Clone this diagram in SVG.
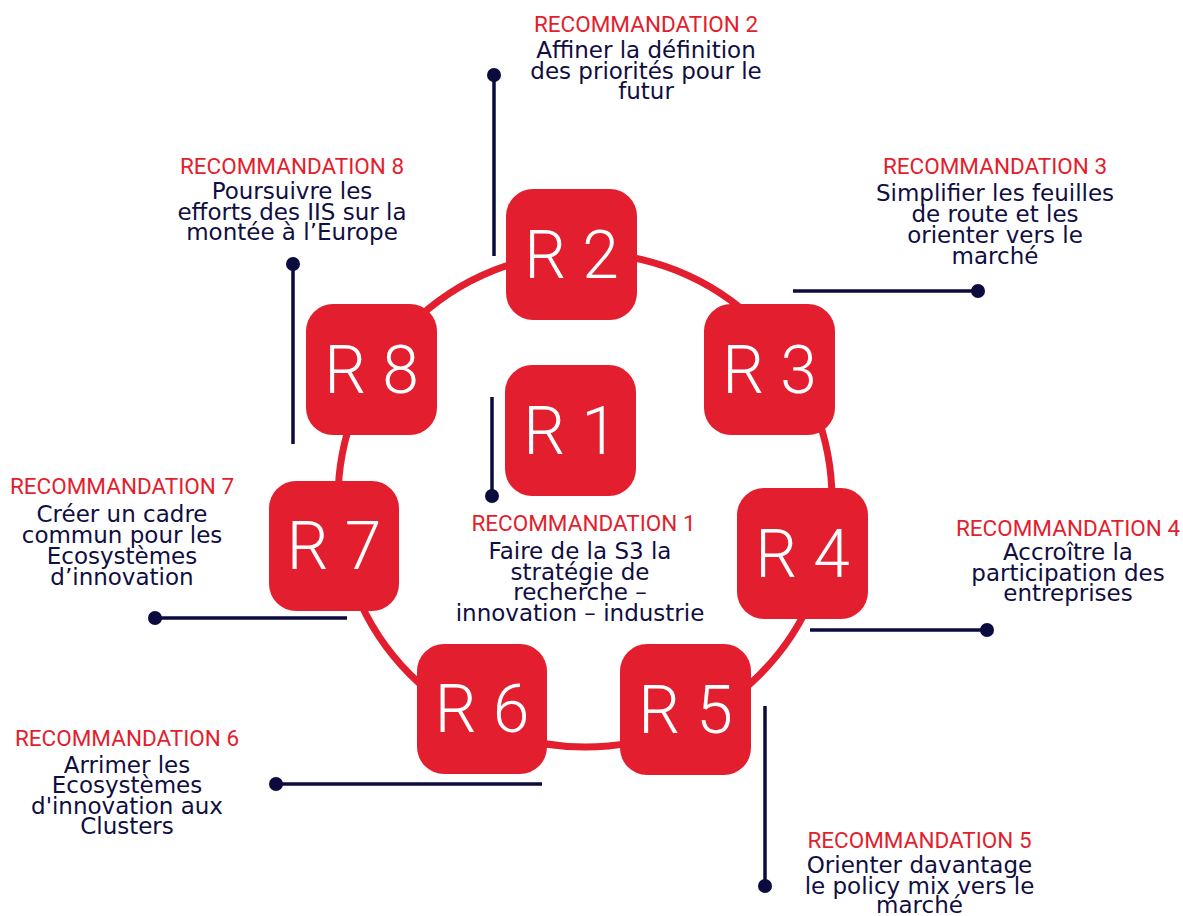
<svg xmlns="http://www.w3.org/2000/svg" width="1183" height="916" viewBox="0 0 1183 916">
<style>
.ring{fill:none;stroke:#E31E2E;stroke-width:7}
.box{fill:#E31E2E}
.bl{font-family:Roboto,"Liberation Sans",sans-serif;font-size:66px;font-weight:300;fill:#ffffff;text-anchor:middle}
.hd{font-family:Roboto,"Liberation Sans",sans-serif;font-size:22.5px;fill:#E31E2E;text-anchor:middle}
.bd{font-family:"DejaVu Sans","Liberation Sans",sans-serif;font-size:23px;fill:#100E42;text-anchor:middle}
.ln{stroke:#0B0B3D;stroke-width:3.5;fill:none}
.dot{fill:#0B0B3D}
</style>
<rect width="1183" height="916" fill="#ffffff"/>
<g id="connectors">
<circle class="ring" cx="585" cy="500" r="247"/>
<line class="ln" x1="494" y1="75" x2="494" y2="256"/><circle class="dot" cx="494" cy="75" r="7"/>
<line class="ln" x1="293" y1="264" x2="293" y2="444"/><circle class="dot" cx="293" cy="264" r="7"/>
<line class="ln" x1="492" y1="397" x2="492" y2="496"/><circle class="dot" cx="492" cy="496" r="7"/>
<line class="ln" x1="793" y1="291" x2="978" y2="291"/><circle class="dot" cx="978" cy="291" r="7"/>
<line class="ln" x1="155" y1="618" x2="347" y2="618"/><circle class="dot" cx="155" cy="618" r="7"/>
<line class="ln" x1="276" y1="784" x2="542" y2="784"/><circle class="dot" cx="276" cy="784" r="7"/>
<line class="ln" x1="810" y1="630" x2="987" y2="630"/><circle class="dot" cx="987" cy="630" r="7"/>
<line class="ln" x1="765" y1="706" x2="765" y2="886"/><circle class="dot" cx="765" cy="886" r="7"/>
</g>
<g id="R1"><rect class="box" x="505" y="365" width="131" height="131" rx="27"/><text class="bl" x="570.5" y="453.5">R 1</text></g>
<g id="R2"><rect class="box" x="506" y="189" width="131" height="131" rx="27"/><text class="bl" x="571.5" y="277.5">R 2</text></g>
<g id="R3"><rect class="box" x="704" y="304" width="131" height="131" rx="27"/><text class="bl" x="769.5" y="392.5">R 3</text></g>
<g id="R4"><rect class="box" x="737" y="488" width="131" height="131" rx="27"/><text class="bl" x="802.5" y="576.5">R 4</text></g>
<g id="R5"><rect class="box" x="620" y="644" width="131" height="131" rx="27"/><text class="bl" x="685.5" y="732.5">R 5</text></g>
<g id="R6"><rect class="box" x="417" y="644" width="130" height="130" rx="27"/><text class="bl" x="482" y="732">R 6</text></g>
<g id="R7"><rect class="box" x="269" y="481" width="130" height="130" rx="27"/><text class="bl" x="334" y="569">R 7</text></g>
<g id="R8"><rect class="box" x="306" y="304" width="131" height="131" rx="27"/><text class="bl" x="371.5" y="392.5">R 8</text></g>
<g id="rec1"><text class="hd" x="583.5" y="531">RECOMMANDATION 1</text>
<text class="bd" x="580" y="559">Faire de la S3 la</text><text class="bd" x="580" y="579.5">stratégie de</text><text class="bd" x="580" y="600">recherche –</text><text class="bd" x="580" y="620.5">innovation – industrie</text></g>
<g id="rec2"><text class="hd" x="646" y="32">RECOMMANDATION 2</text>
<text class="bd" x="646" y="58">Affiner la définition</text><text class="bd" x="646" y="78.5">des priorités pour le</text><text class="bd" x="646" y="99">futur</text></g>
<g id="rec3"><text class="hd" x="995" y="174">RECOMMANDATION 3</text>
<text class="bd" x="995" y="200.5">Simplifier les feuilles</text><text class="bd" x="995" y="221.5">de route et les</text><text class="bd" x="995" y="242.5">orienter vers le</text><text class="bd" x="995" y="263.5">marché</text></g>
<g id="rec4"><text class="hd" x="1068" y="536">RECOMMANDATION 4</text>
<text class="bd" x="1068" y="560">Accroître la</text><text class="bd" x="1068" y="580.5">participation des</text><text class="bd" x="1068" y="601">entreprises</text></g>
<g id="rec5"><text class="hd" x="919.5" y="847.5">RECOMMANDATION 5</text>
<text class="bd" x="919.5" y="873">Orienter davantage</text><text class="bd" x="919.5" y="893.5">le policy mix vers le</text><text class="bd" x="919.5" y="913">marché</text></g>
<g id="rec6"><text class="hd" x="127" y="745.5">RECOMMANDATION 6</text>
<text class="bd" x="127" y="772.5">Arrimer les</text><text class="bd" x="127" y="793">Ecosystèmes</text><text class="bd" x="127" y="813.5">d'innovation aux</text><text class="bd" x="127" y="834">Clusters</text></g>
<g id="rec7"><text class="hd" x="122" y="494">RECOMMANDATION 7</text>
<text class="bd" x="122" y="522">Créer un cadre</text><text class="bd" x="122" y="543">commun pour les</text><text class="bd" x="122" y="564">Ecosystèmes</text><text class="bd" x="122" y="585">d’innovation</text></g>
<g id="rec8"><text class="hd" x="292" y="174">RECOMMANDATION 8</text>
<text class="bd" x="292" y="199">Poursuivre les</text><text class="bd" x="292" y="219.5">efforts des IIS sur la</text><text class="bd" x="292" y="240">montée à l’Europe</text></g>
</svg>
